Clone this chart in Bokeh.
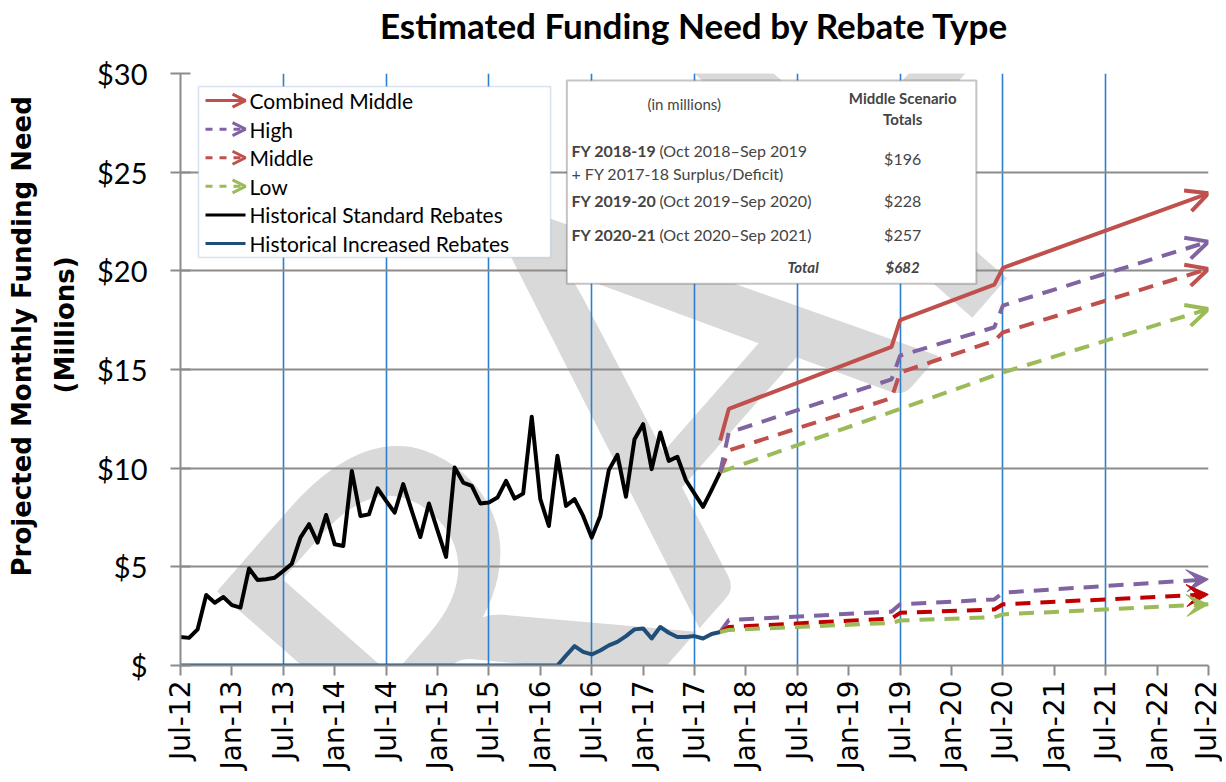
import math
from bokeh.plotting import figure
from bokeh.models import (Range1d, FixedTicker, Arrow, OpenHead, VeeHead, Label,
                          BoxAnnotation, Title, LinearAxis)
from bokeh.embed import file_html
from bokeh.resources import INLINE

# ------------------------------------------------------------------ data
# month index: 0 = Jul-12, 6 = Jan-13, ... 120 = Jul-22
tick_labels = ["Jul-12", "Jan-13", "Jul-13", "Jan-14", "Jul-14", "Jan-15", "Jul-15",
               "Jan-16", "Jul-16", "Jan-17", "Jul-17", "Jan-18", "Jul-18", "Jan-19",
               "Jul-19", "Jan-20", "Jul-20", "Jan-21", "Jul-21", "Jan-22", "Jul-22"]
y_ticks = [0, 5, 10, 15, 20, 25, 30]
y_tick_labels = ["$", "$5", "$10", "$15", "$20", "$25", "$30"]

hist_months = list(range(64))
hist_standard = [1.44, 1.40, 1.83, 3.57, 3.18, 3.47, 3.06, 2.93, 4.92, 4.33,
                 4.37, 4.45, 4.79, 5.16, 6.48, 7.16, 6.23, 7.63, 6.14, 6.06,
                 9.86, 7.58, 7.66, 8.98, 8.34, 7.75, 9.19, 7.83, 6.51, 8.21,
                 6.85, 5.50, 10.03, 9.27, 9.10, 8.21, 8.26, 8.51, 9.36, 8.46,
                 8.71, 12.61, 8.43, 7.07, 10.63, 8.09, 8.43, 7.58, 6.48, 7.58,
                 9.90, 10.68, 8.55, 11.47, 12.23, 9.95, 11.81, 10.37, 10.58, 9.39,
                 8.71, 8.04, 8.90, 9.80]
hist_increased = [0] * 45 + [0.50, 0.98, 0.69, 0.56, 0.76, 1.02, 1.20, 1.49, 1.83,
                             1.88, 1.37, 1.95, 1.66, 1.44, 1.44, 1.49, 1.37, 1.60, 1.70]

proj_months = [63, 64, 83, 84, 95, 96, 120]
combined_middle = [11.4, 13.0, 16.15, 17.5, 19.3, 20.15, 23.93]
high_standard = [9.8, 11.8, 14.5, 15.7, 17.14, 18.24, 21.48]
middle_standard = [9.8, 10.9, 13.55, 14.85, 16.46, 16.88, 20.1]
low_months = [63, 84, 96, 120]
low_standard = [9.8, 13.0, 14.85, 18.07]
high_increased = [1.7, 2.3, 2.73, 3.1, 3.35, 3.69, 4.37]
middle_increased = [1.7, 1.95, 2.38, 2.67, 2.84, 3.1, 3.6]
low_increased = [1.7, 1.8, 2.16, 2.28, 2.45, 2.59, 3.1]

legend_labels = ["Combined Middle", "High", "Middle", "Low",
                 "Historical Standard Rebates", "Historical Increased Rebates"]

table_row_bold = ["FY 2018-19", "FY 2019-20", "FY 2020-21"]
table_row_text = ["(Oct 2018\u2013Sep 2019", "(Oct 2019\u2013Sep 2020)", "(Oct 2020\u2013Sep 2021)"]
table_row_totals = ["$196", "$228", "$257"]
table_grand_total = "$682"

# ------------------------------------------------------------------ style
RED = "#C0504D"
PURPLE = "#8064A2"
GREEN = "#9BBB59"
DARKRED = "#C00000"
NAVY = "#1F4E79"
GRIDGRAY = "#8C8C8C"
GRIDBLUE = "#2A7FD0"
DASH = "15 10"
CAL = "Lato"

p = figure(width=1222, height=778, output_backend="svg", toolbar_location=None,
           x_range=Range1d(0, 120), y_range=Range1d(0, 30),
           min_border_left=180, min_border_right=14, min_border_top=73,
           min_border_bottom=113)
p.title.visible = False
p.outline_line_color = None
p.background_fill_color = "white"
p.border_fill_color = "white"

xax = p.below[0]
yax = p.left[0]

# chart title, carried by a bare axis above the frame
title_axis = LinearAxis(ticker=FixedTicker(ticks=[]),
                        axis_label="Estimated Funding Need by Rebate Type",
                        axis_label_text_font=CAL, axis_label_text_font_size="35px",
                        axis_label_text_font_style="bold", axis_label_text_color="black",
                        axis_label_standoff=28, axis_line_color=None,
                        major_tick_line_color=None, minor_tick_line_color=None,
                        major_tick_in=0, major_tick_out=0, minor_tick_in=0,
                        minor_tick_out=0, major_label_text_font_size="0px")
p.add_layout(title_axis, "above")

# y axis title (two lines, stacked outward from the axis)
p.add_layout(Title(text="(Millions)", align="left", vertical_align="top", standoff=26,
                   offset=272, text_font="DejaVu Sans", text_font_size="26px",
                   text_font_style="bold", text_color="black"), "left")
p.add_layout(Title(text="Projected Monthly Funding Need", align="left",
                   vertical_align="bottom", standoff=0, offset=89,
                   text_font="DejaVu Sans", text_font_size="26px",
                   text_font_style="bold", text_color="black"), "left")

# watermark
p.add_layout(Label(x=51.4, y=13.4, text="DRAFT", angle=0.85, text_align="center",
                   text_baseline="middle", text_font="Lato", text_font_size="540px",
                   text_color="#D9D9D9", level="image"))

# axes
xax.ticker = FixedTicker(ticks=[6 * i for i in range(len(tick_labels))])
xax.major_label_overrides = {6 * i: t for i, t in enumerate(tick_labels)}
xax.major_label_orientation = math.pi / 2
xax.major_label_text_font = "DejaVu Sans"
xax.major_label_text_font_size = "28px"
xax.major_label_text_color = "black"
xax.major_label_standoff = 5
xax.major_tick_in = 0
xax.major_tick_out = 10
xax.minor_tick_line_color = None

yax.ticker = FixedTicker(ticks=y_ticks)
yax.major_label_overrides = dict(zip(y_ticks, y_tick_labels))
yax.major_label_text_font = CAL
yax.major_label_text_font_size = "29px"
yax.major_label_text_color = "black"
yax.major_label_standoff = 23
yax.major_tick_in = 10
yax.major_tick_out = 10
yax.minor_tick_line_color = None

for ax in (xax, yax):
    ax.axis_line_color = GRIDGRAY
    ax.axis_line_width = 2
    ax.major_tick_line_color = GRIDGRAY
    ax.major_tick_line_width = 2

p.ygrid.ticker = FixedTicker(ticks=y_ticks)
p.ygrid.grid_line_color = GRIDGRAY
p.ygrid.grid_line_width = 2
p.xgrid.ticker = FixedTicker(ticks=[12 * i for i in range(1, 11)])
p.xgrid.grid_line_color = GRIDBLUE
p.xgrid.grid_line_width = 1.6

# historical lines
p.line(hist_months, hist_increased, line_color=NAVY, line_width=4, line_join="round")
p.line(hist_months, hist_standard, line_color="black", line_width=4, line_join="round")

# projections (lower: increased rebates)
lower = [(high_increased, PURPLE), (middle_increased, DARKRED), (low_increased, GREEN)]
for ys, c in lower:
    p.line(proj_months, ys, line_color=c, line_width=4, line_dash=DASH)
    p.add_layout(Arrow(end=VeeHead(size=22, fill_color=c, line_color=c),
                       x_start=proj_months[-2], y_start=ys[-2],
                       x_end=proj_months[-1], y_end=ys[-1], line_alpha=0))

# projections (upper: standard + combined)
upper = [(low_months, low_standard, GREEN, DASH), (proj_months, middle_standard, RED, DASH),
         (proj_months, high_standard, PURPLE, DASH), (proj_months, combined_middle, RED, "solid")]
for xs, ys, c, d in upper:
    p.line(xs, ys, line_color=c, line_width=4, line_dash=d)
    p.add_layout(Arrow(end=OpenHead(size=22, line_width=4, line_color=c),
                       x_start=xs[-2], y_start=ys[-2], x_end=xs[-1], y_end=ys[-1],
                       line_alpha=0))

# ------------------------------------------------------------------ legend (hand built)
p.add_layout(BoxAnnotation(left=2.1, right=43.2, top=29.34, bottom=20.67,
                           fill_color="white", fill_alpha=1, line_color="#7F9FCF",
                           line_width=1.5))
leg_styles = [(RED, "solid", True), (PURPLE, "7 7", True), (RED, "7 7", True),
              (GREEN, "7 7", True), ("black", "solid", False), (NAVY, "solid", False)]
for i, (lab, (c, d, head)) in enumerate(zip(legend_labels, leg_styles)):
    yy = 28.63 - 1.45 * i
    p.add_layout(Arrow(x_start=2.92, x_end=7.59, y_start=yy, y_end=yy, line_color=c,
                       line_width=3, line_dash=d,
                       end=OpenHead(size=13, line_width=3, line_color=c) if head else None))
    p.add_layout(Label(x=8.05, y=yy, text=lab, text_baseline="middle", text_font=CAL,
                       text_font_size="21px", text_color="black"))

# ------------------------------------------------------------------ table
p.add_layout(BoxAnnotation(left=45.1, right=92.9, top=29.64, bottom=19.35,
                           fill_color="white", fill_alpha=1, line_color="#3A3A3A",
                           line_width=2))
p.add_layout(Label(x=58.8, y=28.43, text="(in millions)", text_align="center",
                   text_baseline="middle", text_font=CAL, text_font_size="15px"))
p.add_layout(Label(x=84.3, y=28.78, text="Middle Scenario", text_align="center",
                   text_baseline="middle", text_font=CAL, text_font_size="15px",
                   text_font_style="bold"))
p.add_layout(Label(x=84.3, y=27.67, text="Totals", text_align="center",
                   text_baseline="middle", text_font=CAL, text_font_size="15px",
                   text_font_style="bold"))
row_y = [26.1, 23.56, 21.84]
total_y = [25.69, 23.56, 21.84]
for b, t, tot, yy, ty in zip(table_row_bold, table_row_text, table_row_totals, row_y, total_y):
    p.add_layout(Label(x=45.64, y=yy, text=b, text_baseline="middle", text_font=CAL,
                       text_font_size="16px", text_font_style="bold"))
    p.add_layout(Label(x=55.9, y=yy, text=t, text_baseline="middle", text_font=CAL,
                       text_font_size="16px"))
    p.add_layout(Label(x=84.3, y=ty, text=tot, text_align="center", text_baseline="middle",
                       text_font=CAL, text_font_size="16px"))
p.add_layout(Label(x=45.64, y=24.93, text="+ FY 2017-18 Surplus/Deficit)",
                   text_baseline="middle", text_font=CAL, text_font_size="16px"))
p.add_layout(Label(x=74.5, y=20.21, text="Total", text_align="right", text_baseline="middle",
                   text_font=CAL, text_font_size="15px", text_font_style="bold italic"))
p.add_layout(Label(x=84.3, y=20.21, text=table_grand_total, text_align="center",
                   text_baseline="middle", text_font=CAL, text_font_size="15px",
                   text_font_style="bold italic"))

open("out.html", "w").write(file_html(p, INLINE))
